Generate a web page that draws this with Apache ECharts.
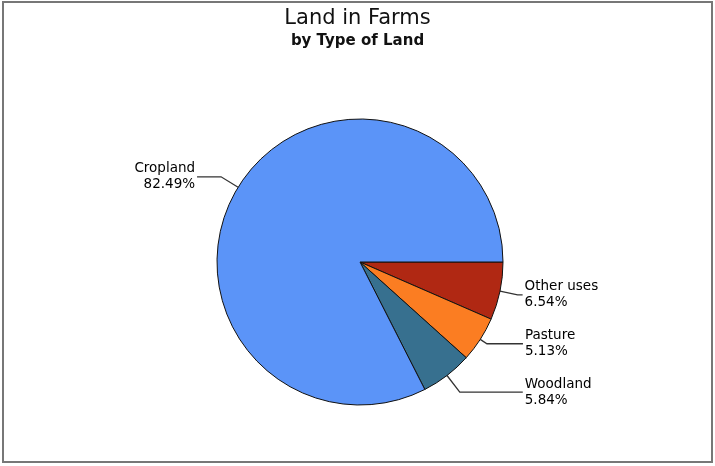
<!DOCTYPE html>
<html>
<head>
<meta charset="utf-8">
<script src="https://cdn.jsdelivr.net/npm/echarts@6/dist/echarts.min.js"></script>
<style>
  html, body { margin: 0; padding: 0; background: #fff; }
  #chart { width: 715px; height: 466px; }
</style>
</head>
<body>
<div id="chart"></div>
<script>
  // slices in drawing order, clockwise from 3 o'clock
  var landTypes = ['Other uses', 'Pasture', 'Woodland', 'Cropland']
  var landShare = [6.54, 5.13, 5.84, 82.49]
  var sliceColors = ['#b02813', '#fb7d22', '#37708f', '#5b94f8']
  // leader line lengths (radial part, horizontal part)
  var leadLen = [18, 8, 21, 20]
  var leadLen2 = [5, 36, 63, 24]

  var pieData = landTypes.map(function (name, i) {
    return {
      name: name,
      value: landShare[i],
      itemStyle: { color: sliceColors[i] },
      labelLine: { length: leadLen[i], length2: leadLen2[i] }
    }
  })

  var chart = echarts.init(document.getElementById('chart'))
  chart.setOption({
    animation: false,
    title: {
      text: 'Land in Farms',
      subtext: 'by Type of Land',
      left: 'center',
      top: 3,
      itemGap: 5,
      textStyle: { fontFamily: 'DejaVu Sans', fontSize: 21, fontWeight: 'normal', color: '#111' },
      subtextStyle: { fontFamily: 'DejaVu Sans', fontSize: 15, fontWeight: 'bold', color: '#111' }
    },
    graphic: [{
      type: 'rect',
      shape: { x: 3, y: 2, width: 709, height: 460 },
      style: { fill: 'none', stroke: '#777', lineWidth: 2 },
      silent: true
    }],
    series: [{
      type: 'pie',
      center: [360, 262],
      radius: 143,
      startAngle: 0,
      clockwise: true,
      avoidLabelOverlap: false,
      data: pieData,
      itemStyle: { borderColor: '#111', borderWidth: 1 },
      label: {
        position: 'outside',
        alignTo: 'none',
        distanceToLabelLine: 2,
        formatter: '{b}\n{d}%',
        fontFamily: 'DejaVu Sans',
        fontSize: 13.5,
        lineHeight: 16,
        color: '#000'
      },
      labelLine: {
        lineStyle: { color: '#333', width: 1.3 }
      }
    }]
  })
</script>
</body>
</html>
